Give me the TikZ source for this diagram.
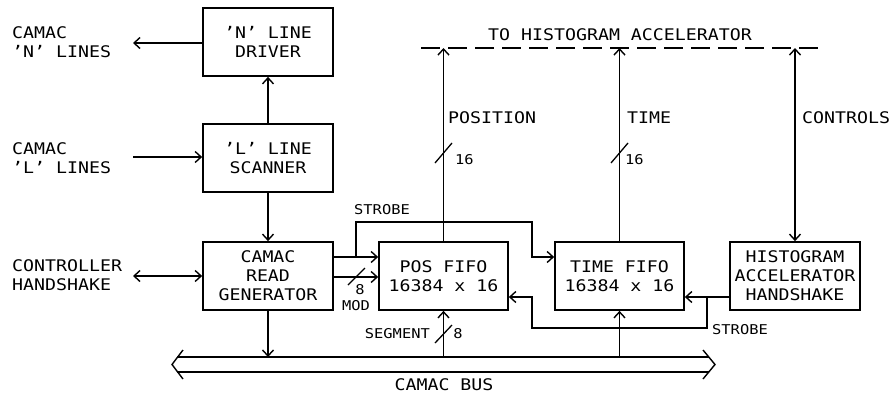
\documentclass[tikz,border=0pt]{standalone}
\usepackage{fontspec}
\newfontfamily\plotfont[FakeStretch=1.14]{DejaVu Sans Mono}
\usetikzlibrary{arrows.meta}
\begin{document}
\begin{tikzpicture}[x=1pt,y=-1pt,
  every node/.style={font=\plotfont\fontsize{16}{19}\selectfont, inner sep=0pt},
  small/.style={font=\plotfont\fontsize{13.5}{16}\selectfont},
  blk/.style={draw, line width=1.7pt, minimum height=68pt, align=center},
  ln/.style={line width=1.4pt},
  arr/.style={ln, -{Straight Barb[length=6pt,width=11pt]}},
  darr/.style={ln, {Straight Barb[length=6pt,width=11pt]}-{Straight Barb[length=6pt,width=11pt]}},
  slash/.style={line width=1.3pt}]
\useasboundingbox (0,0) rectangle (895,394);

% blocks
\node[blk, minimum width=130pt] (drv) at (268,42) {’N’ LINE\\DRIVER};
\node[blk, minimum width=130pt] (scan) at (268,158) {’L’ LINE\\SCANNER};
\node[blk, minimum width=130pt] (rdg) at (268,276) {CAMAC\\READ\\GENERATOR};
\node[blk, minimum width=129pt] (pos) at (443.5,276) {POS FIFO\\16384 x 16};
\node[blk, minimum width=129pt] (time) at (619.5,276) {TIME FIFO\\16384 x 16};
\node[blk, minimum width=130pt] (hah) at (795,276) {HISTOGRAM\\ACCELERATOR\\HANDSHAKE};

% left labels
\node[anchor=west, align=left] (lN) at (12,42.5) {CAMAC\\’N’ LINES};
\node[anchor=west, align=left] (lL) at (12,158) {CAMAC\\’L’ LINES};
\node[anchor=west, align=left] (lC) at (12,275.5) {CONTROLLER\\HANDSHAKE};

\coordinate (nout) at (133,43);
\coordinate (lin) at (133,157);
\coordinate (chs) at (133,276);
\draw[arr] (drv.west |- nout) -- (nout);
\draw[arr] (lin) -- (lin -| scan.west);
\draw[darr] (chs) -- (chs -| rdg.west);
\draw[arr] (scan.north) -- (drv.south);
\draw[arr] (scan.south) -- (rdg.north);

% bus
\coordinate (btl) at (177,357);
\coordinate (btr) at (709,357);
\coordinate (bbl) at (177,372);
\coordinate (bbr) at (709,372);
\draw[ln] (btl) -- (btr);
\draw[ln] (bbl) -- (bbr);
\draw[ln] (183,350) -- (172,364.5) -- (183,379);
\draw[ln] (703,350) -- (715,364.5) -- (703,379);
\node (bus) at (444,385) {CAMAC BUS};
\draw[arr] (rdg.south) -- (rdg.south |- btl);

% read gen to pos fifo
\coordinate (a1) at (333,257);
\coordinate (a2) at (333,277);
\draw[arr] (a1) -- (a1 -| pos.west);
\draw[arr] (a2) -- (a2 -| pos.west);
\draw[slash] (348,285) -- (365,268);
\node[small] (n8a) at (360,290) {8};
\node[small] (mod) at (356,306) {MOD};

% strobe to time fifo
\coordinate (s1) at (356,257);
\draw[arr] (s1) -- (356,222) -- (532,222) -- (532,257) -- (532,257 -| time.west);
\node[small] (strA) at (382,210) {STROBE};

% dashed line to histogram accelerator
\coordinate (dl) at (421,48);
\coordinate (dr) at (818,48);
\draw[ln, dash pattern=on 19pt off 8pt] (dl) -- (dr);
\node (toha) at (620,35) {TO HISTOGRAM ACCELERATOR};

\draw[arr] (pos.north) -- (pos.north |- dl);
\draw[slash] (435,163) -- (452,143);
\node[small, anchor=west] (p16) at (455,160) {16};
\node[anchor=west] (posl) at (448,118) {POSITION};

\draw[arr] (time.north) -- (time.north |- dl);
\draw[slash] (611,163) -- (628,143);
\node[small, anchor=west] (t16) at (625,160) {16};
\node[anchor=west] (timel) at (627,118) {TIME};

\draw[darr] (hah.north |- dl) -- (hah.north);
\node[anchor=west] (ctl) at (802,118) {CONTROLS};

% histogram handshake to fifos
\coordinate (h1) at (730,297);
\draw[arr] (h1) -- (h1 -| time.east);
\draw[arr] (707,297) -- (707,328) -- (532,328) -- (532,297) -- (532,297 -| pos.east);
\node[small] (strB) at (740,330) {STROBE};

% bus to fifos
\draw[arr] (time.south |- btl) -- (time.south);
\draw[arr] (pos.south |- btl) -- (pos.south);
\draw[slash] (435,343) -- (452,325);
\node[small, anchor=east] (seg) at (430,334) {SEGMENT};
\node[small] (n8b) at (458,334) {8};
\end{tikzpicture}
\end{document}
